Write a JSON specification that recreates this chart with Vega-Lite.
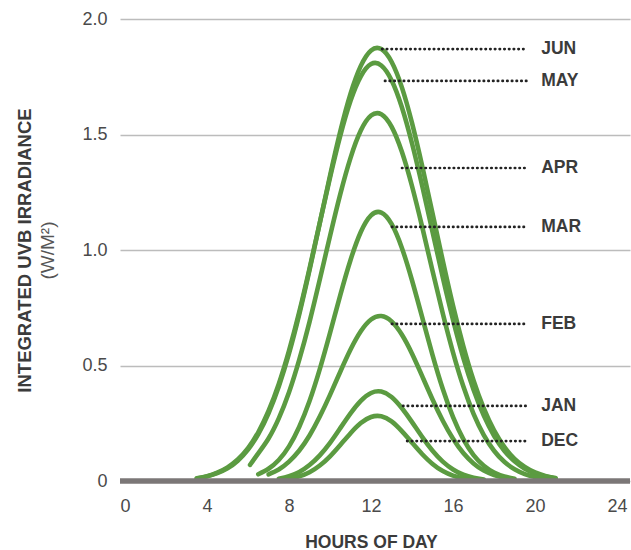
{
  "$schema": "https://vega.github.io/schema/vega-lite/v6.json",
  "width": 510,
  "height": 462,
  "autosize": "none",
  "padding": {"left": 120, "top": 19, "right": 1, "bottom": 69},
  "background": "white",
  "config": {"view": {"stroke": null}},
  "datasets": {
    "curves": [
      {"m":"JUN","h":3.5,"v":0.011},{"m":"JUN","h":4,"v":0.020},{"m":"JUN","h":4.5,"v":0.034},{"m":"JUN","h":5,"v":0.055},{"m":"JUN","h":5.5,"v":0.088},{"m":"JUN","h":6,"v":0.136},{"m":"JUN","h":6.5,"v":0.203},{"m":"JUN","h":7,"v":0.293},{"m":"JUN","h":7.5,"v":0.409},{"m":"JUN","h":8,"v":0.552},{"m":"JUN","h":8.5,"v":0.722},{"m":"JUN","h":9,"v":0.913},{"m":"JUN","h":9.5,"v":1.117},{"m":"JUN","h":10,"v":1.322},{"m":"JUN","h":10.5,"v":1.514},{"m":"JUN","h":11,"v":1.677},{"m":"JUN","h":11.5,"v":1.797},{"m":"JUN","h":12,"v":1.864},{"m":"JUN","h":12.5,"v":1.870},{"m":"JUN","h":13,"v":1.815},{"m":"JUN","h":13.5,"v":1.705},{"m":"JUN","h":14,"v":1.549},{"m":"JUN","h":14.5,"v":1.361},{"m":"JUN","h":15,"v":1.158},{"m":"JUN","h":15.5,"v":0.953},{"m":"JUN","h":16,"v":0.758},{"m":"JUN","h":16.5,"v":0.584},{"m":"JUN","h":17,"v":0.435},{"m":"JUN","h":17.5,"v":0.314},{"m":"JUN","h":18,"v":0.219},{"m":"JUN","h":18.5,"v":0.148},{"m":"JUN","h":19,"v":0.096},{"m":"JUN","h":19.5,"v":0.061},{"m":"JUN","h":20,"v":0.037},{"m":"JUN","h":20.5,"v":0.022},{"m":"JUN","h":21,"v":0.013},
      {"m":"MAY","h":3.5,"v":0.012},{"m":"MAY","h":4,"v":0.021},{"m":"MAY","h":4.5,"v":0.036},{"m":"MAY","h":5,"v":0.059},{"m":"MAY","h":5.5,"v":0.093},{"m":"MAY","h":6,"v":0.142},{"m":"MAY","h":6.5,"v":0.211},{"m":"MAY","h":7,"v":0.303},{"m":"MAY","h":7.5,"v":0.420},{"m":"MAY","h":8,"v":0.564},{"m":"MAY","h":8.5,"v":0.732},{"m":"MAY","h":9,"v":0.920},{"m":"MAY","h":9.5,"v":1.118},{"m":"MAY","h":10,"v":1.314},{"m":"MAY","h":10.5,"v":1.495},{"m":"MAY","h":11,"v":1.646},{"m":"MAY","h":11.5,"v":1.752},{"m":"MAY","h":12,"v":1.805},{"m":"MAY","h":12.5,"v":1.799},{"m":"MAY","h":13,"v":1.735},{"m":"MAY","h":13.5,"v":1.619},{"m":"MAY","h":14,"v":1.461},{"m":"MAY","h":14.5,"v":1.276},{"m":"MAY","h":15,"v":1.078},{"m":"MAY","h":15.5,"v":0.881},{"m":"MAY","h":16,"v":0.697},{"m":"MAY","h":16.5,"v":0.533},{"m":"MAY","h":17,"v":0.395},{"m":"MAY","h":17.5,"v":0.283},{"m":"MAY","h":18,"v":0.196},{"m":"MAY","h":18.5,"v":0.131},{"m":"MAY","h":19,"v":0.085},{"m":"MAY","h":19.5,"v":0.053},{"m":"MAY","h":20,"v":0.032},{"m":"MAY","h":20.5,"v":0.019},{"m":"MAY","h":21,"v":0.011},
      {"m":"APR","h":6.1,"v":0.07},{"m":"APR","h":6.5,"v":0.120},{"m":"APR","h":7,"v":0.184},{"m":"APR","h":7.5,"v":0.271},{"m":"APR","h":8,"v":0.384},{"m":"APR","h":8.5,"v":0.525},{"m":"APR","h":9,"v":0.689},{"m":"APR","h":9.5,"v":0.872},{"m":"APR","h":10,"v":1.061},{"m":"APR","h":10.5,"v":1.242},{"m":"APR","h":11,"v":1.399},{"m":"APR","h":11.5,"v":1.517},{"m":"APR","h":12,"v":1.582},{"m":"APR","h":12.5,"v":1.588},{"m":"APR","h":13,"v":1.534},{"m":"APR","h":13.5,"v":1.426},{"m":"APR","h":14,"v":1.276},{"m":"APR","h":14.5,"v":1.098},{"m":"APR","h":15,"v":0.909},{"m":"APR","h":15.5,"v":0.725},{"m":"APR","h":16,"v":0.556},{"m":"APR","h":16.5,"v":0.410},{"m":"APR","h":17,"v":0.291},{"m":"APR","h":17.5,"v":0.199},{"m":"APR","h":18,"v":0.131},{"m":"APR","h":18.5,"v":0.083},{"m":"APR","h":19,"v":0.051},{"m":"APR","h":19.5,"v":0.030},{"m":"APR","h":20,"v":0.017},{"m":"APR","h":20.5,"v":0.009},
      {"m":"MAR","h":6.5,"v":0.029},{"m":"MAR","h":7,"v":0.053},{"m":"MAR","h":7.5,"v":0.091},{"m":"MAR","h":8,"v":0.150},{"m":"MAR","h":8.5,"v":0.235},{"m":"MAR","h":9,"v":0.346},{"m":"MAR","h":9.5,"v":0.484},{"m":"MAR","h":10,"v":0.641},{"m":"MAR","h":10.5,"v":0.805},{"m":"MAR","h":11,"v":0.957},{"m":"MAR","h":11.5,"v":1.078},{"m":"MAR","h":12,"v":1.150},{"m":"MAR","h":12.5,"v":1.162},{"m":"MAR","h":13,"v":1.113},{"m":"MAR","h":13.5,"v":1.010},{"m":"MAR","h":14,"v":0.868},{"m":"MAR","h":14.5,"v":0.707},{"m":"MAR","h":15,"v":0.545},{"m":"MAR","h":15.5,"v":0.398},{"m":"MAR","h":16,"v":0.276},{"m":"MAR","h":16.5,"v":0.181},{"m":"MAR","h":17,"v":0.112},{"m":"MAR","h":17.5,"v":0.066},{"m":"MAR","h":18,"v":0.037},{"m":"MAR","h":18.5,"v":0.020},{"m":"MAR","h":19,"v":0.010},
      {"m":"FEB","h":7,"v":0.029},{"m":"FEB","h":7.5,"v":0.050},{"m":"FEB","h":8,"v":0.084},{"m":"FEB","h":8.5,"v":0.132},{"m":"FEB","h":9,"v":0.197},{"m":"FEB","h":9.5,"v":0.279},{"m":"FEB","h":10,"v":0.373},{"m":"FEB","h":10.5,"v":0.473},{"m":"FEB","h":11,"v":0.569},{"m":"FEB","h":11.5,"v":0.648},{"m":"FEB","h":12,"v":0.699},{"m":"FEB","h":12.5,"v":0.714},{"m":"FEB","h":13,"v":0.691},{"m":"FEB","h":13.5,"v":0.634},{"m":"FEB","h":14,"v":0.551},{"m":"FEB","h":14.5,"v":0.453},{"m":"FEB","h":15,"v":0.353},{"m":"FEB","h":15.5,"v":0.261},{"m":"FEB","h":16,"v":0.183},{"m":"FEB","h":16.5,"v":0.121},{"m":"FEB","h":17,"v":0.076},{"m":"FEB","h":17.5,"v":0.045},{"m":"FEB","h":18,"v":0.026},{"m":"FEB","h":18.5,"v":0.014},
      {"m":"JAN","h":7.5,"v":0.010},{"m":"JAN","h":8,"v":0.021},{"m":"JAN","h":8.5,"v":0.039},{"m":"JAN","h":9,"v":0.069},{"m":"JAN","h":9.5,"v":0.111},{"m":"JAN","h":10,"v":0.165},{"m":"JAN","h":10.5,"v":0.229},{"m":"JAN","h":11,"v":0.293},{"m":"JAN","h":11.5,"v":0.347},{"m":"JAN","h":12,"v":0.381},{"m":"JAN","h":12.5,"v":0.387},{"m":"JAN","h":13,"v":0.364},{"m":"JAN","h":13.5,"v":0.316},{"m":"JAN","h":14,"v":0.255},{"m":"JAN","h":14.5,"v":0.190},{"m":"JAN","h":15,"v":0.131},{"m":"JAN","h":15.5,"v":0.084},{"m":"JAN","h":16,"v":0.050},{"m":"JAN","h":16.5,"v":0.027},{"m":"JAN","h":17,"v":0.014},{"m":"JAN","h":17.5,"v":0.006},
      {"m":"DEC","h":7.5,"v":0.004},{"m":"DEC","h":8,"v":0.009},{"m":"DEC","h":8.5,"v":0.020},{"m":"DEC","h":9,"v":0.038},{"m":"DEC","h":9.5,"v":0.067},{"m":"DEC","h":10,"v":0.107},{"m":"DEC","h":10.5,"v":0.156},{"m":"DEC","h":11,"v":0.207},{"m":"DEC","h":11.5,"v":0.251},{"m":"DEC","h":12,"v":0.277},{"m":"DEC","h":12.5,"v":0.280},{"m":"DEC","h":13,"v":0.258},{"m":"DEC","h":13.5,"v":0.216},{"m":"DEC","h":14,"v":0.166},{"m":"DEC","h":14.5,"v":0.116},{"m":"DEC","h":15,"v":0.074},{"m":"DEC","h":15.5,"v":0.043},{"m":"DEC","h":16,"v":0.023},{"m":"DEC","h":16.5,"v":0.011},{"m":"DEC","h":17,"v":0.005}
    ],
    "labels": [
      {"m":"JUN","y":1.870,"x0":12.54},
      {"m":"MAY","y":1.732,"x0":12.68},
      {"m":"APR","y":1.355,"x0":13.51},
      {"m":"MAR","y":1.100,"x0":13.02},
      {"m":"FEB","y":0.680,"x0":13.02},
      {"m":"JAN","y":0.325,"x0":13.56},
      {"m":"DEC","y":0.173,"x0":13.76}
    ],
    "base": [{"v": 0}]
  },
  "resolve": {"axis": {"y": "independent"}},
  "layer": [
    {
      "data": {"name": "curves"},
      "mark": {"type": "line", "color": "#5b9b41", "strokeWidth": 4.6, "strokeCap": "round", "strokeJoin": "round", "interpolate": "natural"},
      "encoding": {
        "x": {"field": "h", "type": "quantitative", "scale": {"domain": [-0.244, 24.63], "nice": false, "zero": false},
          "axis": {"values": [0,4,8,12,16,20,24], "title": "HOURS OF DAY", "domain": false, "ticks": false, "grid": false,
            "labelFont": "Liberation Sans", "labelFontSize": 18, "labelColor": "#4a4a4a", "labelPadding": 16,
            "titleFont": "Liberation Sans", "titleFontWeight": "bold", "titleFontSize": 17.5, "titleColor": "#3b3b3b",
            "titleX": 251, "titleY": 66, "titleBaseline": "alphabetic", "titleAlign": "center"}},
        "y": {"field": "v", "type": "quantitative", "scale": {"domain": [0, 2], "nice": false},
          "axis": {"orient": "left", "values": [0, 0.5, 1, 1.5, 2], "labelExpr": "datum.value == 0 ? '0' : format(datum.value, '.1f')",
            "domain": false, "ticks": false, "grid": true, "gridColor": "#bcbcbc", "gridWidth": 1.6,
            "labelFont": "Liberation Sans", "labelFontSize": 18, "labelColor": "#4a4a4a", "labelPadding": 13,
            "title": "INTEGRATED UVB IRRADIANCE", "titleFont": "Liberation Sans", "titleFontWeight": "bold", "titleFontSize": 18.5, "titleColor": "#3b3b3b",
            "titleAngle": -90, "titleX": -90, "titleY": 231, "titleBaseline": "alphabetic", "titleAlign": "center"}},
        "detail": {"field": "m"}
      }
    },
    {
      "data": {"name": "labels"},
      "mark": {"type": "rule", "color": "#222222", "strokeWidth": 2.7, "strokeCap": "round", "strokeDash": [0.4, 4.3]},
      "encoding": {
        "x": {"field": "x0", "type": "quantitative"},
        "x2": {"datum": 19.6},
        "y": {"field": "y", "type": "quantitative",
          "axis": {"orient": "left", "labels": false, "ticks": false, "domain": false, "grid": false,
            "title": "(W/M²)", "titleFont": "Liberation Sans", "titleFontWeight": "normal", "titleFontSize": 19, "titleColor": "#555555",
            "titleAngle": -90, "titleX": -67, "titleY": 231, "titleBaseline": "alphabetic", "titleAlign": "center"}}
      }
    },
    {
      "data": {"name": "labels"},
      "mark": {"type": "text", "align": "left", "baseline": "middle", "font": "Liberation Sans", "fontWeight": "bold", "fontSize": 17.5, "color": "#3b3b3b"},
      "encoding": {
        "x": {"datum": 20.3, "type": "quantitative"},
        "y": {"field": "y", "type": "quantitative", "axis": null},
        "text": {"field": "m"}
      }
    },
    {
      "data": {"name": "base"},
      "mark": {"type": "rule", "color": "#7b7777", "strokeWidth": 5.5},
      "encoding": {"y": {"field": "v", "type": "quantitative", "axis": null}}
    }
  ]
}
